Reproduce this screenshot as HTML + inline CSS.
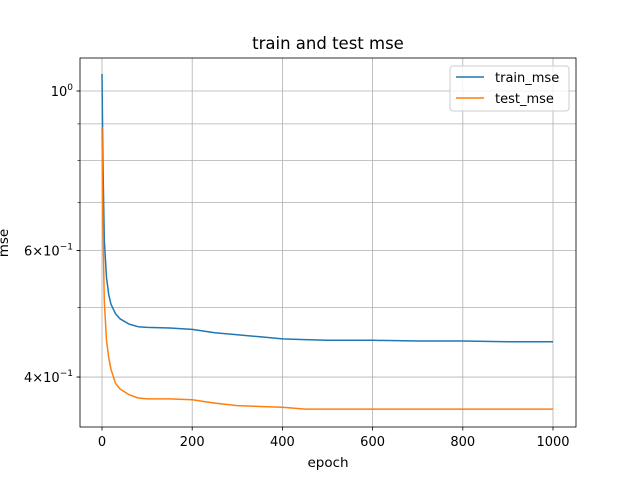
<!DOCTYPE html>
<html><head><meta charset="utf-8"><style>
body{margin:0;background:#fff}
svg text{font-family:"DejaVu Sans","Liberation Sans",sans-serif;fill:#000}
</style></head><body>
<svg id="chart" width="640" height="480" xmlns="http://www.w3.org/2000/svg">
<rect width="640" height="480" fill="#fff"/>
<g id="grid"></g>
<g id="series"></g>
<rect x="80" y="58" width="496" height="369" fill="none" stroke="#000" stroke-width="0.8"/>
<g id="axes"></g>
<text x="328" y="49" font-size="16.5" text-anchor="middle">train and test mse</text>
<text x="328" y="467" font-size="13.5" text-anchor="middle">epoch</text>
<text transform="translate(8,243) rotate(-90)" font-size="13.5" text-anchor="middle">mse</text>
<g>
<rect x="450" y="66" width="119" height="45" rx="3" fill="#fff" fill-opacity="0.8" stroke="#ccc"/>
<line x1="456" y1="77" x2="484" y2="77" stroke="#1f77b4" stroke-width="1.5"/>
<text x="495" y="82" font-size="13">train_mse</text>
<line x1="456" y1="98" x2="484" y2="98" stroke="#ff7f0e" stroke-width="1.5"/>
<text x="495" y="103" font-size="13">test_mse</text>
</g>
</svg>
<script>
const epochs=[0,2,5,10,15,20,30,40,60,80,100,150,200,250,300,350,400,450,500,600,700,800,900,1000];
const trainMse=[1.056,0.8,0.62,0.55,0.52,0.505,0.49,0.482,0.474,0.47,0.469,0.468,0.466,0.461,0.458,0.455,0.452,0.451,0.450,0.450,0.449,0.449,0.448,0.448];
const testMse=[0.891,0.65,0.51,0.45,0.425,0.41,0.392,0.385,0.378,0.374,0.373,0.373,0.372,0.368,0.365,0.364,0.363,0.361,0.361,0.361,0.361,0.361,0.361,0.361];
const xTicks=[0,200,400,600,800,1000];
const yMajor=[{v:1,l:"10",e:"0"},{v:0.6,l:"6×10",e:"−1"},{v:0.4,l:"4×10",e:"−1"}];
const yGrid=[0.4,0.5,0.6,0.7,0.8,0.9,1];
const NS="http://www.w3.org/2000/svg";
const X=v=>102+v*0.451;
const Y=v=>91-Math.log10(v)*718.8;
function mk(tag,attrs,parent){const e=document.createElementNS(NS,tag);for(const k in attrs)e.setAttribute(k,attrs[k]);document.getElementById(parent).appendChild(e);return e;}
xTicks.forEach(t=>{
 const g=mk("line",{x1:X(t),x2:X(t),y1:58,y2:427,stroke:"#b0b0b0","stroke-width":0.8},"grid");
 
 
 mk("line",{x1:X(t),x2:X(t),y1:427,y2:430.5,stroke:"#000","stroke-width":0.8},"axes");
 const tx=mk("text",{x:X(t),y:446,"font-size":13,"text-anchor":"middle"},"axes");
 tx.textContent=t;
 
 
});
yGrid.forEach(v=>{
 const g=mk("line",{x1:80,x2:576,y1:Y(v),y2:Y(v),stroke:"#b0b0b0","stroke-width":0.8},"grid");
 
 
 mk("line",{x1:77.5,x2:80,y1:Y(v),y2:Y(v),stroke:"#000","stroke-width":0.6},"axes");
});
yMajor.forEach(m=>{
 mk("line",{x1:76.5,x2:80,y1:Y(m.v),y2:Y(m.v),stroke:"#000","stroke-width":0.8},"axes");
 const tx=mk("text",{x:73,y:Y(m.v)+5,"font-size":13,"text-anchor":"end"},"axes");
 tx.innerHTML=m.l+'<tspan dy="-6" font-size="9">'+m.e+'</tspan>';
 
 
});
function line(vals,color,name){
 const d=epochs.map((e,i)=>(i?"L":"M")+X(e).toFixed(1)+","+Y(vals[i]).toFixed(1)).join("");
 const p=mk("path",{d:d,fill:"none",stroke:color,"stroke-width":1.5,"stroke-linejoin":"round"},"series");
 
 
}
line(trainMse,"#1f77b4","train-mse-line");
line(testMse,"#ff7f0e","test-mse-line");
</script>
</body></html>
